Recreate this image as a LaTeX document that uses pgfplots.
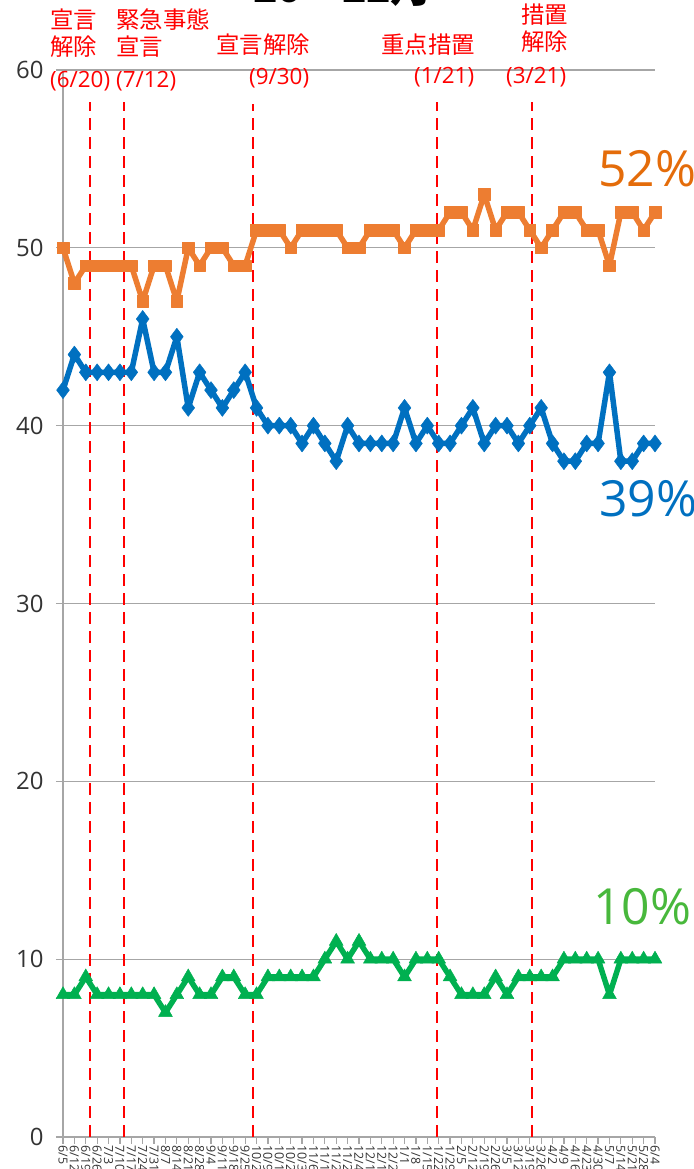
\documentclass[border=0pt]{standalone}
\usepackage{fontspec}
\setmainfont{Open Sans}
\newfontfamily\jp{Noto Sans CJK JP}
\usepackage{pgfplots}
\pgfplotsset{compat=1.18}
\usepackage{pgfplotstable}
\definecolor{ora}{HTML}{ED7D31}
\definecolor{blu}{HTML}{0070C0}
\definecolor{grn}{HTML}{00B050}
\definecolor{oratxt}{HTML}{E46C0A}
\definecolor{grntxt}{HTML}{48B83C}
\definecolor{gridc}{HTML}{A6A6A6}

\pgfplotstableread{
x  o  b  g
0  50 42 8
1  48 44 8
2  49 43 9
3  49 43 8
4  49 43 8
5  49 43 8
6  49 43 8
7  47 46 8
8  49 43 8
9  49 43 7
10 47 45 8
11 50 41 9
12 49 43 8
13 50 42 8
14 50 41 9
15 49 42 9
16 49 43 8
17 51 41 8
18 51 40 9
19 51 40 9
20 50 40 9
21 51 39 9
22 51 40 9
23 51 39 10
24 51 38 11
25 50 40 10
26 50 39 11
27 51 39 10
28 51 39 10
29 51 39 10
30 50 41 9
31 51 39 10
32 51 40 10
33 51 39 10
34 52 39 9
35 52 40 8
36 51 41 8
37 53 39 8
38 51 40 9
39 52 40 8
40 52 39 9
41 51 40 9
42 50 41 9
43 51 39 9
44 52 38 10
45 52 38 10
46 51 39 10
47 51 39 10
48 49 43 8
49 52 38 10
50 52 38 10
51 51 39 10
52 52 39 10
}\data

\begin{document}
\begin{tikzpicture}[x=1bp,y=1bp]
\useasboundingbox (0,0) rectangle (694,1169);
\begin{axis}[
  at={(63bp,32bp)}, anchor=south west,
  scale only axis, width=592bp, height=1067bp,
  xmin=0, xmax=52, ymin=0, ymax=60,
  clip=false,
  axis x line*=bottom, axis y line*=left,
  axis line style={gridc, line width=1.2bp},
  ymajorgrids, grid style={gridc, line width=1.2bp},
  ytick={0,10,...,60},
  xtick={0,...,52},
  xticklabels={6/5,6/12,6/19,6/26,7/3,7/10,7/17,7/24,7/31,8/7,8/14,8/21,8/28,9/4,9/11,9/18,9/25,10/2,10/9,10/16,10/23,10/30,11/6,11/13,11/20,11/27,12/4,12/11,12/18,12/25,1/1,1/8,1/15,1/22,1/29,2/5,2/12,2/19,2/26,3/5,3/12,3/19,3/26,4/2,4/9,4/16,4/23,4/30,5/7,5/14,5/21,5/28,6/4},
  xticklabel style={rotate=-90, anchor=west, font=\fontsize{12.5}{12.5}\selectfont, text=black!80, inner sep=1.5bp},
  yticklabel style={font=\fontsize{24}{24}\selectfont, text=black!80, xshift=-9bp},
  /pgf/number format/assume math mode=true,
  tick align=outside, major tick length=7bp,
  tick style={gridc, line width=1.2bp},
]
% event lines
\addplot[red, line width=2.6bp, dash pattern=on 12bp off 7bp] coordinates {(2.37,0) (2.37,58.2)};
\addplot[red, line width=2.6bp, dash pattern=on 12bp off 7bp] coordinates {(5.36,0) (5.36,58.2)};
\addplot[red, line width=2.6bp, dash pattern=on 12bp off 7bp] coordinates {(16.70,0) (16.70,58.1)};
\addplot[red, line width=2.6bp, dash pattern=on 12bp off 7bp] coordinates {(32.86,0) (32.86,58.2)};
\addplot[red, line width=2.6bp, dash pattern=on 12bp off 7bp] coordinates {(41.20,0) (41.20,58.2)};
% series
\addplot[ora, line width=5.5bp, line join=round, mark=square*, mark size=5.8bp, mark options={line width=0.5bp, fill=ora}] table[x=x, y=o] {\data};
\addplot[blu, line width=5.5bp, line join=round, mark=diamond*, mark size=8.5bp, mark options={line width=0.5bp, fill=blu}] table[x=x, y=b] {\data};
\addplot[grn, line width=5.5bp, line join=round, mark=triangle*, mark size=8bp, mark options={line width=0.5bp, fill=grn}] table[x=x, y=g] {\data};
\end{axis}

% title (mostly cut off at the top)
\node[anchor=base west, inner sep=0, font=\bfseries\fontsize{42}{42}\selectfont] at (253,1166.5) {20{\jp ～}22{\jp 月}};

% event annotations
\begin{scope}[every node/.style={anchor=west, inner sep=0, text=red, font=\jp\fontsize{23.5}{23.5}\selectfont}]
\node at (50,1149) {宣言};
\node at (50,1122) {解除};
\node at (116,1149) {緊急事態};
\node at (116,1122) {宣言};
\node at (216,1124) {宣言解除};
\node at (381,1124) {重点措置};
\node at (521,1154) {措置};
\node at (521,1127) {解除};
\end{scope}
\begin{scope}[every node/.style={anchor=west, inner sep=0, text=red, font=\fontsize{22.5}{22.5}\selectfont}]
\node at (50,1088) {(6/20)};
\node at (116,1088) {(7/12)};
\node at (249,1091) {(9/30)};
\node at (414,1092) {(1/21)};
\node at (506,1092) {(3/21)};
\end{scope}

% end labels
\node[anchor=base west, inner sep=0, text=oratxt, font=\fontsize{50}{50}\selectfont] at (598,982) {52\%};
\node[anchor=base west, inner sep=0, text=blu, font=\fontsize{50}{50}\selectfont] at (599,652) {39\%};
\node[anchor=base west, inner sep=0, text=grntxt, font=\fontsize{50}{50}\selectfont] at (593,244) {10\%};
\end{tikzpicture}
\end{document}
